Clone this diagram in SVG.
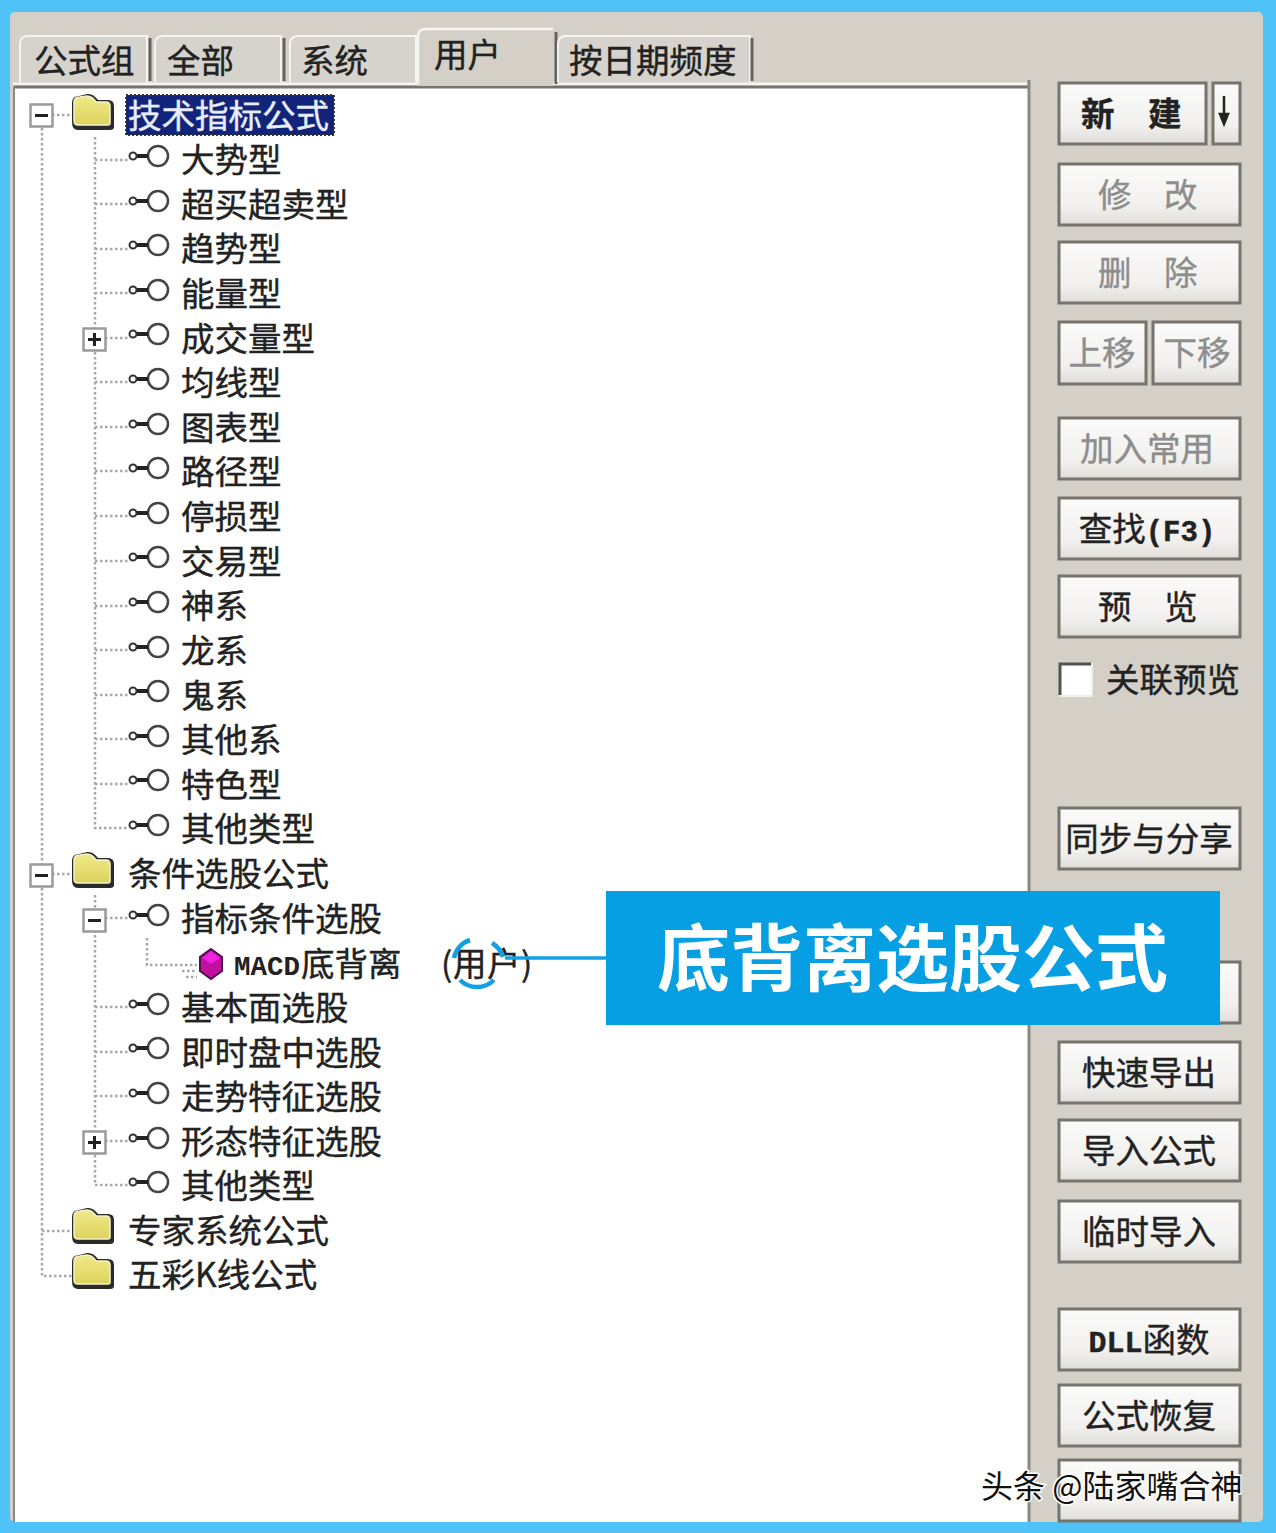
<svg xmlns="http://www.w3.org/2000/svg" xmlns:xlink="http://www.w3.org/1999/xlink" width="1276" height="1533" viewBox="0 0 1276 1533">
<style>
text{font-family:"Noto Sans CJK SC","Liberation Sans",sans-serif;fill:#222}
.t{font-size:33.500px;stroke:#222;stroke-width:.4}
.b{font-size:33.500px;text-anchor:middle;stroke:#222;stroke-width:.4}
.s{font-size:33.500px;stroke:#222;stroke-width:.4}
.d{fill:#8d8d8d;stroke:#8d8d8d}
.m{font-family:"Liberation Mono","Noto Sans CJK SC",monospace;font-weight:700}
.dot{stroke:#a8a8a8;stroke-width:2.500;stroke-dasharray:2.500 2.500;fill:none}
.btn{fill:url(#bg);stroke:#77736d;stroke-width:3}
.tab{fill:#d6d3cc;stroke:#f5f4f1;stroke-width:2}
.sep{stroke:#66635e;stroke-width:3}
</style>
<defs>
<linearGradient id="bg" x1="0" y1="0" x2="0" y2="1"><stop offset="0" stop-color="#fbfbfa"/><stop offset=".7" stop-color="#f1f0ee"/><stop offset="1" stop-color="#dfddd8"/></linearGradient>
<linearGradient id="fd" x1="0" y1="0" x2="0" y2="1"><stop offset="0" stop-color="#f0e98a"/><stop offset="1" stop-color="#dcd35c"/></linearGradient>
<g id="key"><circle cx="158" cy="0" r="10" fill="#fff" stroke="#444" stroke-width="2.500"/><path d="M135 0H148" stroke="#222" stroke-width="4"/><circle cx="133" cy="0" r="3.500" fill="#fff" stroke="#333" stroke-width="2"/></g>
<g id="folder"><path d="M72 122V103Q72 96 79 96L87 94Q93 93 98 100H108Q114 100 114 106V127Q114 130 110 130H78Q72 130 72 122Z" fill="#2b2b2b"/><path d="M74 121V102Q74 97 80 97L87 96Q92 96 96 102H106Q110 102 110 106V123Q110 125 108 125H78Q74 125 74 121Z" fill="url(#fd)" stroke="#f5f3c8" stroke-width="1.500"/></g>
<g id="minus"><rect x="-10.500" y="-10.500" width="22" height="22" fill="#fff" stroke="#9a9a9a" stroke-width="2.500"/><path d="M-6 0.500H7" stroke="#222" stroke-width="3"/></g>
<g id="plus"><rect x="-10.500" y="-10.500" width="22" height="22" fill="#fff" stroke="#9a9a9a" stroke-width="2.500"/><path d="M-6 0.500H7M0.500-6V7" stroke="#222" stroke-width="3"/></g>
</defs>

<g id="window">
<rect width="1276" height="1533" fill="#4fc3f7"/>
<rect x="10" y="12" width="1253" height="1510" rx="5" fill="#d4d0c8"/>
<path d="M14 1522V88H1028V1522Z" fill="#fff"/>
<path d="M13 84H1027" stroke="#f6f5f2" stroke-width="3"/>
<path d="M14 87H1029" stroke="#77736d" stroke-width="3"/>
<path d="M1029 80V1522" stroke="#8b8883" stroke-width="3"/>
<path d="M14 86V1522" stroke="#8b8883" stroke-width="2"/>
</g>

<g id="tabs">
<g id="tab-formula"><path class="tab" d="M20 82V44Q20 36 28 36H147V82"/><path class="sep" d="M150 38V81"/><text class="t" x="34" y="73">公式组</text></g>
<g id="tab-all"><path class="tab" d="M155 82V44Q155 36 163 36H281V82"/><path class="sep" d="M284 38V81"/><text class="t" x="167" y="73">全部</text></g>
<g id="tab-system"><path class="tab" d="M290 82V44Q290 36 298 36H416V82"/><text class="t" x="301" y="73">系统</text></g>
<g id="tab-user"><path d="M418 86V36Q418 29 426 29H553V86Z" fill="#d4d0c8"/><path d="M418 84V36Q418 29 426 29H553" fill="none" stroke="#f5f4f1" stroke-width="2.500"/><path class="sep" d="M556 32V84"/><text class="t" x="434" y="67">用户</text></g>
<g id="tab-date"><path class="tab" d="M558 82V44Q558 36 566 36H750V82"/><path class="sep" d="M752 38V81"/><text class="t" x="569" y="73">按日期频度</text></g>
</g>

<g id="connectors">
<path class="dot" d="M42 128V1276H72M42 1231H72"/>
<path class="dot" d="M95 137V828H128M95 160H128M95 204H128M95 249H128M95 293H128M95 338H128M95 382H128M95 427H128M95 471H128M95 516H128M95 561H128M95 606H128M95 650H128M95 695H128M95 739H128M95 784H128"/>
<path class="dot" d="M95 895V1185H128M95 1007H128M95 1052H128M95 1096H128M95 1141H128M95 918H128"/>
<path class="dot" d="M147 938V965H197M52 115H72M52 874H72"/>
<path class="dot" d="M182 971H197M186 977H197"/>
</g>

<g id="node-root1"><use xlink:href="#minus" x="41" y="115"/><use xlink:href="#folder"/><rect x="126" y="95" width="208" height="40" fill="#12247a" stroke="#333" stroke-width="2" stroke-dasharray="2 2"/><text class="t" x="128" y="128" style="fill:#e8ecff;stroke:#e8ecff">技术指标公式</text></g>
<g id="n1"><use xlink:href="#key" y="156"/><text class="t" x="181" y="172">大势型</text></g>
<g id="n2"><use xlink:href="#key" y="201"/><text class="t" x="181" y="217">超买超卖型</text></g>
<g id="n3"><use xlink:href="#key" y="245"/><text class="t" x="181" y="261">趋势型</text></g>
<g id="n4"><use xlink:href="#key" y="290"/><text class="t" x="181" y="306">能量型</text></g>
<g id="n5"><use xlink:href="#plus" x="94" y="339"/><use xlink:href="#key" y="334"/><text class="t" x="181" y="351">成交量型</text></g>
<g id="n6"><use xlink:href="#key" y="379"/><text class="t" x="181" y="395">均线型</text></g>
<g id="n7"><use xlink:href="#key" y="424"/><text class="t" x="181" y="440">图表型</text></g>
<g id="n8"><use xlink:href="#key" y="468"/><text class="t" x="181" y="484">路径型</text></g>
<g id="n9"><use xlink:href="#key" y="513"/><text class="t" x="181" y="529">停损型</text></g>
<g id="n10"><use xlink:href="#key" y="557"/><text class="t" x="181" y="574">交易型</text></g>
<g id="n11"><use xlink:href="#key" y="602"/><text class="t" x="181" y="618">神系</text></g>
<g id="n12"><use xlink:href="#key" y="647"/><text class="t" x="181" y="663">龙系</text></g>
<g id="n13"><use xlink:href="#key" y="691"/><text class="t" x="181" y="708">鬼系</text></g>
<g id="n14"><use xlink:href="#key" y="736"/><text class="t" x="181" y="752">其他系</text></g>
<g id="n15"><use xlink:href="#key" y="780"/><text class="t" x="181" y="797">特色型</text></g>
<g id="n16"><use xlink:href="#key" y="825"/><text class="t" x="181" y="841">其他类型</text></g>
<g id="node-root2"><use xlink:href="#minus" x="41" y="875"/><use xlink:href="#folder" y="758"/><text class="t" x="128" y="886">条件选股公式</text></g>
<g id="c1"><use xlink:href="#minus" x="94" y="920"/><use xlink:href="#key" y="915"/><text class="t" x="181" y="931">指标条件选股</text></g>
<g id="c1a"><path d="M211 949L222 957V971L211 979L200 971V957Z" fill="#c0109c" stroke="#4a1050" stroke-width="2"/><path d="M211 951L220 958L211 964L202 958Z" fill="#ee22e0"/><text class="m" x="234" y="975" font-size="28" textLength="66" lengthAdjust="spacingAndGlyphs">MACD</text><text class="t" x="301" y="976">底背离</text><text class="t" x="441 453 487 521" y="976">(用户)</text></g>
<g id="c2"><use xlink:href="#key" y="1004"/><text class="t" x="181" y="1020">基本面选股</text></g>
<g id="c3"><use xlink:href="#key" y="1048"/><text class="t" x="181" y="1065">即时盘中选股</text></g>
<g id="c4"><use xlink:href="#key" y="1093"/><text class="t" x="181" y="1109">走势特征选股</text></g>
<g id="c5"><use xlink:href="#plus" x="94" y="1142"/><use xlink:href="#key" y="1138"/><text class="t" x="181" y="1154">形态特征选股</text></g>
<g id="c6"><use xlink:href="#key" y="1182"/><text class="t" x="181" y="1198">其他类型</text></g>
<g id="node-root3"><use xlink:href="#folder" y="1114"/><text class="t" x="128" y="1243">专家系统公式</text></g>
<g id="node-root4"><use xlink:href="#folder" y="1159"/><text class="t" x="128" y="1287">五彩K线公式</text></g>

<g id="buttons">
<g id="btn-new"><rect class="btn" x="1059" y="83" width="147" height="61"/><text class="s" x="1081 1148" y="126" style="font-weight:700">新建</text></g>
<g id="btn-arrow"><rect class="btn" x="1213" y="83" width="27" height="61"/><path d="M1224 96V116M1220 114H1228L1224 124Z" stroke="#222" stroke-width="2.500" fill="#222"/></g>
<g id="btn-edit"><rect class="btn" x="1059" y="164" width="181" height="61"/><text class="s d" x="1098 1164" y="207">修改</text></g>
<g id="btn-del"><rect class="btn" x="1059" y="242" width="181" height="61"/><text class="s d" x="1098 1164" y="285">删除</text></g>
<g id="btn-up"><rect class="btn" x="1059" y="322" width="87" height="62"/><text class="b d" x="1102" y="365">上移</text></g>
<g id="btn-down"><rect class="btn" x="1153" y="322" width="87" height="62"/><text class="b d" x="1197" y="365">下移</text></g>
<g id="btn-fav"><rect class="btn" x="1059" y="418" width="181" height="61"/><text class="b d" x="1147" y="461">加入常用</text></g>
<g id="btn-find"><rect class="btn" x="1059" y="498" width="181" height="61"/><text class="b" x="1147" y="541">查找<tspan class="m" style="font-size:29px">(F3)</tspan></text></g>
<g id="btn-preview"><rect class="btn" x="1059" y="576" width="181" height="61"/><text class="s" x="1098 1164" y="619">预览</text></g>
<g id="chk-link"><rect x="1060" y="664" width="32" height="32" fill="#fff" stroke="#efeee9" stroke-width="2"/><path d="M1060 695V664H1091" fill="none" stroke="#55524e" stroke-width="3"/><text class="s" x="1106" y="692">关联预览</text></g>
<g id="btn-share"><rect class="btn" x="1059" y="808" width="181" height="61"/><text class="b" x="1149" y="851">同步与分享</text></g>
<g id="btn-hidden"><rect class="btn" x="1059" y="962" width="181" height="61"/></g>
<g id="btn-export"><rect class="btn" x="1059" y="1042" width="181" height="61"/><text class="b" x="1149" y="1085">快速导出</text></g>
<g id="btn-import"><rect class="btn" x="1059" y="1120" width="181" height="61"/><text class="b" x="1149" y="1163">导入公式</text></g>
<g id="btn-temp"><rect class="btn" x="1059" y="1201" width="181" height="61"/><text class="b" x="1149" y="1244">临时导入</text></g>
<g id="btn-dll"><rect class="btn" x="1059" y="1309" width="181" height="61"/><text class="b" x="1149" y="1352"><tspan class="m" style="font-size:30px">DLL</tspan>函数</text></g>
<g id="btn-restore"><rect class="btn" x="1059" y="1385" width="181" height="61"/><text class="b" x="1149" y="1428">公式恢复</text></g>
<g id="btn-last"><rect class="btn" x="1059" y="1460" width="181" height="61"/></g>
</g>

<g id="callout-connector">
<path d="M505 958H607" stroke="#12a0e4" stroke-width="3.500" fill="none"/>
<path d="M454 958A24 24 0 0 1 470 940M492 943A24 24 0 0 1 503 957M494 980A24 24 0 0 1 460 980" stroke="#12a0e4" stroke-width="4.500" fill="none"/>
</g>
<g id="callout"><rect x="606" y="891" width="614" height="134" fill="#069fe3"/><text x="657" y="985" style="font-size:73px;font-weight:700;fill:#fff">底背离选股公式</text></g>
<g id="watermark"><text x="981" y="1498" style="font-size:32px;fill:#111;stroke:#fff;stroke-width:3;paint-order:stroke" xml:space="preserve">头条 @陆家嘴合神</text></g>
</svg>
